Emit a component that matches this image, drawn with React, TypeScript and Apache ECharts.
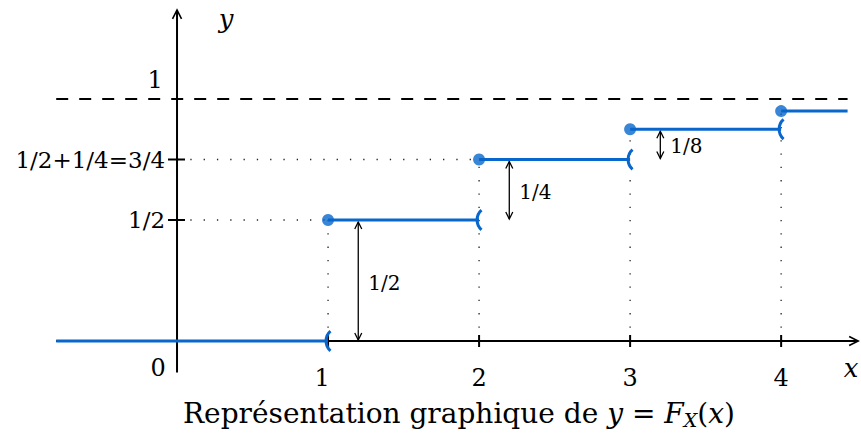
import React, { useEffect, useRef } from "react";
import * as echarts from "echarts";

// ---- data ----
const jumpX = [1, 2, 3, 4];
const levels = [0, 0.5, 0.75, 0.875, 0.95];
const xLeft = -0.8;
const xRight = 4.44;
const xTickValues = [1, 2, 3, 4];
const xTickLabels = ["1", "2", "3", "4"];
const yTickValues = [0.5, 0.75];
const yTickLabels = ["1/2", "1/2+1/4=3/4"];
const arrowX = [1.2, 2.2, 3.2];
const jumpLabels = ["1/2", "1/4", "1/8"];
const limitLevel = 1;

const BLUE = "#0866cc";
const FONT = "'DejaVu Serif', 'Liberation Serif', serif";

export default function App() {
  const ref = useRef<HTMLDivElement>(null);
  useEffect(() => {
    document.body.style.margin = "0";
    const chart = echarts.init(ref.current!, null, { renderer: "svg" });

    const segData = levels.map((y, i) => [
      i === 0 ? xLeft : jumpX[i - 1],
      i < jumpX.length ? jumpX[i] : xRight,
      y,
    ]);
    const dotData = jumpX.map((x, i) => [x, levels[i + 1]]);
    const openData = jumpX.map((x, i) => [x, levels[i]]);
    const guideData = [
      ...jumpX.map((x, i) => [x, 0, x, levels[i + 1]]),
      ...yTickValues.map((v) => {
        const k = levels.indexOf(v);
        return [0, v, jumpX[k - 1], v];
      }),
    ];
    const arrowData = arrowX.map((x, i) => [x, levels[i], levels[i + 1], i]);
    const xTickData = xTickValues.map((v, i) => [v, i]);
    const yTickData = yTickValues.map((v, i) => [v, i]);

    const txt = (text: string, x: number, y: number, size: number, align: string, extra: any = {}) => ({
      type: "text",
      x,
      y,
      style: { text, fontFamily: FONT, fontSize: size, fill: "#000", align, verticalAlign: "middle", ...extra },
    });

    const option: any = {
      animation: false,
      backgroundColor: "#fff",
      title: {
        text: "Représentation graphique de {i|y} = {i|F}{sub|X}({i|x})",
        left: 178,
        top: 393,
        textStyle: {
          fontFamily: FONT,
          fontSize: 28,
          fontWeight: "normal",
          color: "#000",
          rich: {
            i: { fontFamily: FONT, fontSize: 28, fontStyle: "italic", color: "#000" },
            sub: {
              fontFamily: FONT,
              fontSize: 19,
              fontStyle: "italic",
              color: "#000",
              padding: [12, 0, 0, 0],
            },
          },
        },
      },
      grid: { left: 56.2, width: 808, top: 2.2, height: 387.2, outerBoundsMode: "none", containLabel: false },
      xAxis: {
        type: "value",
        min: -0.8,
        max: 4.55,
        show: false,
      },
      yAxis: {
        type: "value",
        min: -0.2,
        max: 1.4,
        show: false,
      },
      series: [
        // dotted guides
        {
          type: "custom",
          z: 1,
          data: guideData,
          renderItem: (_p: any, api: any) => {
            const a = api.coord([api.value(0), api.value(1)]);
            const b = api.coord([api.value(2), api.value(3)]);
            return {
              type: "line",
              shape: { x1: a[0], y1: a[1], x2: b[0], y2: b[1] },
              style: { stroke: "#222", lineWidth: 1.3, lineDash: [1.3, 12] },
            };
          },
        },
        // dashed limit line
        {
          type: "line",
          z: 1,
          data: [
            [xLeft, limitLevel],
            [xRight, limitLevel],
          ],
          symbol: "none",
          lineStyle: { color: "#000", width: 2.2, type: [12, 11] },
        },
        // axes lines, arrows and axis names
        {
          type: "custom",
          z: 2,
          data: [[0]],
          renderItem: (_p: any, api: any) => {
            const st = { stroke: "#000", lineWidth: 2, fill: "none" };
            const yb = api.coord([0, -0.13]);
            const yt = api.coord([0, 1.368]);
            const xl = api.coord([xLeft, 0]);
            const xr = api.coord([4.51, 0]);
            const o = api.coord([0, 0]);
            const one = api.coord([0, limitLevel]);
            return {
              type: "group",
              children: [
                { type: "line", shape: { x1: yb[0], y1: yb[1], x2: yt[0], y2: yt[1] }, style: st },
                {
                  type: "polyline",
                  shape: { points: [[yt[0] - 4.5, yt[1] + 9], [yt[0], yt[1]], [yt[0] + 4.5, yt[1] + 9]] },
                  style: { ...st, lineWidth: 1.6 },
                },
                { type: "line", shape: { x1: xl[0], y1: xl[1], x2: xr[0], y2: xr[1] }, style: st },
                {
                  type: "polyline",
                  shape: { points: [[xr[0] - 9, xr[1] - 4.5], [xr[0], xr[1]], [xr[0] - 9, xr[1] + 4.5]] },
                  style: { ...st, lineWidth: 1.6 },
                },
                txt("0", o[0] - 19, o[1] + 27, 24, "center"),
                txt("1", one[0] - 22, one[1] - 19, 24, "center"),
                txt("y", yt[0] + 49, yt[1] + 9, 26, "center", { fontStyle: "italic" }),
                txt("x", xr[0] - 7, xr[1] + 27, 26, "center", { fontStyle: "italic" }),
              ],
            };
          },
        },
        // x ticks + labels
        {
          type: "custom",
          z: 2,
          data: xTickData,
          renderItem: (_p: any, api: any) => {
            const c = api.coord([api.value(0), 0]);
            const i = api.value(1);
            return {
              type: "group",
              children: [
                { type: "line", shape: { x1: c[0], y1: c[1] - 6, x2: c[0], y2: c[1] + 6 }, style: { stroke: "#000", lineWidth: 2 } },
                txt(xTickLabels[i], c[0] + (i === 0 ? -6 : 0), c[1] + 37, 24, "center"),
              ],
            };
          },
        },
        // y ticks + labels
        {
          type: "custom",
          z: 2,
          data: yTickData,
          renderItem: (_p: any, api: any) => {
            const c = api.coord([0, api.value(0)]);
            const i = api.value(1);
            return {
              type: "group",
              children: [
                { type: "line", shape: { x1: c[0] - 9, y1: c[1], x2: c[0] + 8, y2: c[1] }, style: { stroke: "#000", lineWidth: 2 } },
                txt(yTickLabels[i], c[0] - 12, c[1], 23, "right"),
              ],
            };
          },
        },
        // jump arrows
        {
          type: "custom",
          z: 3,
          data: arrowData,
          renderItem: (_p: any, api: any) => {
            const x = api.value(0);
            const a = api.coord([x, api.value(1)]);
            const b = api.coord([x, api.value(2)]);
            const i = api.value(3);
            const L = 7;
            const W = 3.5;
            const st = { stroke: "#000", lineWidth: 1.3, fill: "none" };
            return {
              type: "group",
              children: [
                { type: "line", shape: { x1: a[0], y1: a[1] - 1, x2: b[0], y2: b[1] + 2 }, style: st },
                { type: "polyline", shape: { points: [[a[0] - W, a[1] - 1 - L], [a[0], a[1] - 1], [a[0] + W, a[1] - 1 - L]] }, style: st },
                { type: "polyline", shape: { points: [[b[0] - W, b[1] + 2 + L], [b[0], b[1] + 2], [b[0] + W, b[1] + 2 + L]] }, style: st },
                txt(jumpLabels[i], a[0] + 10, (a[1] + b[1]) / 2 + 2, 20, "left"),
              ],
            };
          },
        },
        // blue segments
        {
          type: "custom",
          z: 4,
          data: segData,
          renderItem: (_p: any, api: any) => {
            const a = api.coord([api.value(0), api.value(2)]);
            const b = api.coord([api.value(1), api.value(2)]);
            return {
              type: "line",
              shape: { x1: a[0], y1: a[1], x2: b[0], y2: b[1] },
              style: { stroke: BLUE, lineWidth: 3 },
            };
          },
        },
        // open ends "("
        {
          type: "custom",
          z: 5,
          data: openData,
          renderItem: (_p: any, api: any) => {
            const c = api.coord([api.value(0), api.value(1)]);
            return {
              type: "arc",
              shape: { cx: c[0] + 11, cy: c[1], r: 13, startAngle: Math.PI - 0.85, endAngle: Math.PI + 0.85, clockwise: true },
              style: { stroke: BLUE, lineWidth: 3, fill: "none" },
            };
          },
        },
        // closed dots
        {
          type: "scatter",
          z: 6,
          data: dotData,
          symbol: "circle",
          symbolSize: 12,
          itemStyle: { color: BLUE },
        },
      ],
    };
    chart.setOption(option);
    return () => chart.dispose();
  }, []);
  return <div ref={ref} style={{ width: 861, height: 434 }} />;
}
